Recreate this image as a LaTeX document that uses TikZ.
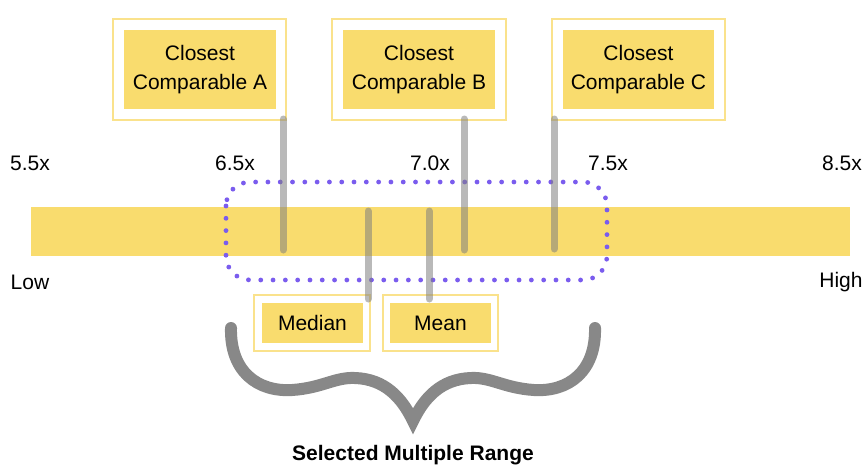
\documentclass[tikz,border=0pt]{standalone}
\usepackage{fontspec}
\setmainfont{Liberation Sans}
\definecolor{baryellow}{RGB}{249,220,110}
\definecolor{edgeyellow}{RGB}{250,226,140}
\definecolor{dotpurple}{RGB}{122,92,238}
\definecolor{bracegray}{RGB}{136,136,136}
\begin{document}
\begin{tikzpicture}[x=1pt,y=-1pt,
  outerbox/.style={draw=edgeyellow,line width=2pt,fill=white,minimum width=#1,minimum height=101pt,inner sep=0pt},
  innerbox/.style={fill=baryellow,minimum width=#1,minimum height=79pt,inner sep=0pt,align=center,font=\fontsize{21pt}{29pt}\selectfont},
  smallouter/.style={draw=edgeyellow,line width=2pt,fill=white,minimum width=#1,minimum height=56pt,inner sep=0pt},
  smallinner/.style={fill=baryellow,minimum width=#1,minimum height=40pt,inner sep=0pt,font=\fontsize{21pt}{25pt}\selectfont},
  ticklabel/.style={font=\fontsize{21pt}{25pt}\selectfont,inner sep=0pt},
  markline/.style={draw=gray,draw opacity=0.55,line width=7pt,line cap=round},
  rangebox/.style={draw=dotpurple,line width=4.8pt,line cap=round,dash pattern=on 0pt off 12.3pt,rounded corners=24pt},
  bracestyle/.style={draw=bracegray,line width=12pt,line cap=round,line join=miter}]
\useasboundingbox (0,0) rectangle (863,467);
\fill[white] (0,0) rectangle (863,467);
% bar
\node[fill=baryellow,minimum width=819pt,minimum height=49pt,inner sep=0pt] (bar) at (440.5,231.5) {};
% dotted range
\draw[rangebox] (226,182) rectangle (607,280);
% top boxes
\node[outerbox=173pt] (oA) at (199.5,69.5) {};
\node[innerbox=152pt] (A) at (200,69.5) {Closest\\Comparable A};
\node[outerbox=174pt] (oB) at (419,69.5) {};
\node[innerbox=152pt] (B) at (419,69.5) {Closest\\Comparable B};
\node[outerbox=173pt] (oC) at (638.5,69.5) {};
\node[innerbox=151pt] (C) at (638.5,69.5) {Closest\\Comparable C};
% bottom boxes
\node[smallouter=116pt] (oMed) at (312,323) {};
\node[smallinner=101pt] (Med) at (312.5,323) {Median};
\node[smallouter=115pt] (oMean) at (440.5,323) {};
\node[smallinner=101pt] (Mean) at (440.5,323) {Mean};
% marker endpoints
\coordinate (pA) at (283,250);
\coordinate (pB) at (464,250);
\coordinate (pC) at (554,249);
\coordinate (pMed) at (368,211);
\coordinate (pMean) at (429,211);
\draw[markline] ([yshift=2pt]oA.south -| pA) -- (pA);
\draw[markline] ([yshift=2pt]oB.south -| pB) -- (pB);
\draw[markline] ([yshift=2pt]oC.south -| pC) -- (pC);
\draw[markline] (pMed) -- ([yshift=-5pt]oMed.north -| pMed);
\draw[markline] (pMean) -- ([yshift=-5pt]oMean.north -| pMean);
% tick labels
\node[ticklabel] (t55) at (30,163) {5.5x};
\node[ticklabel] (t65) at (235,163) {6.5x};
\node[ticklabel] (t70) at (430,163) {7.0x};
\node[ticklabel] (t75) at (608,163) {7.5x};
\node[ticklabel] (t85) at (842,163) {8.5x};
\node[ticklabel] (low) at (30,282) {Low};
\node[ticklabel] (high) at (841,282) {High};
% brace
\coordinate (bl) at (231,328);
\coordinate (btip) at (413,421);
\coordinate (br) at (595,328);
\draw[bracestyle] (bl) .. controls (230,372) and (258,392) .. (292,390)
  .. controls (322,388) and (335,377) .. (355,378)
  .. controls (385,379) and (402,398) .. (btip)
  .. controls (424,398) and (441,379) .. (471,378)
  .. controls (491,377) and (504,388) .. (534,390)
  .. controls (568,392) and (596,372) .. (br);
\node[font=\bfseries\fontsize{21pt}{25pt}\selectfont,inner sep=0pt] (label) at (413,455) {Selected Multiple Range};
\end{tikzpicture}
\end{document}
